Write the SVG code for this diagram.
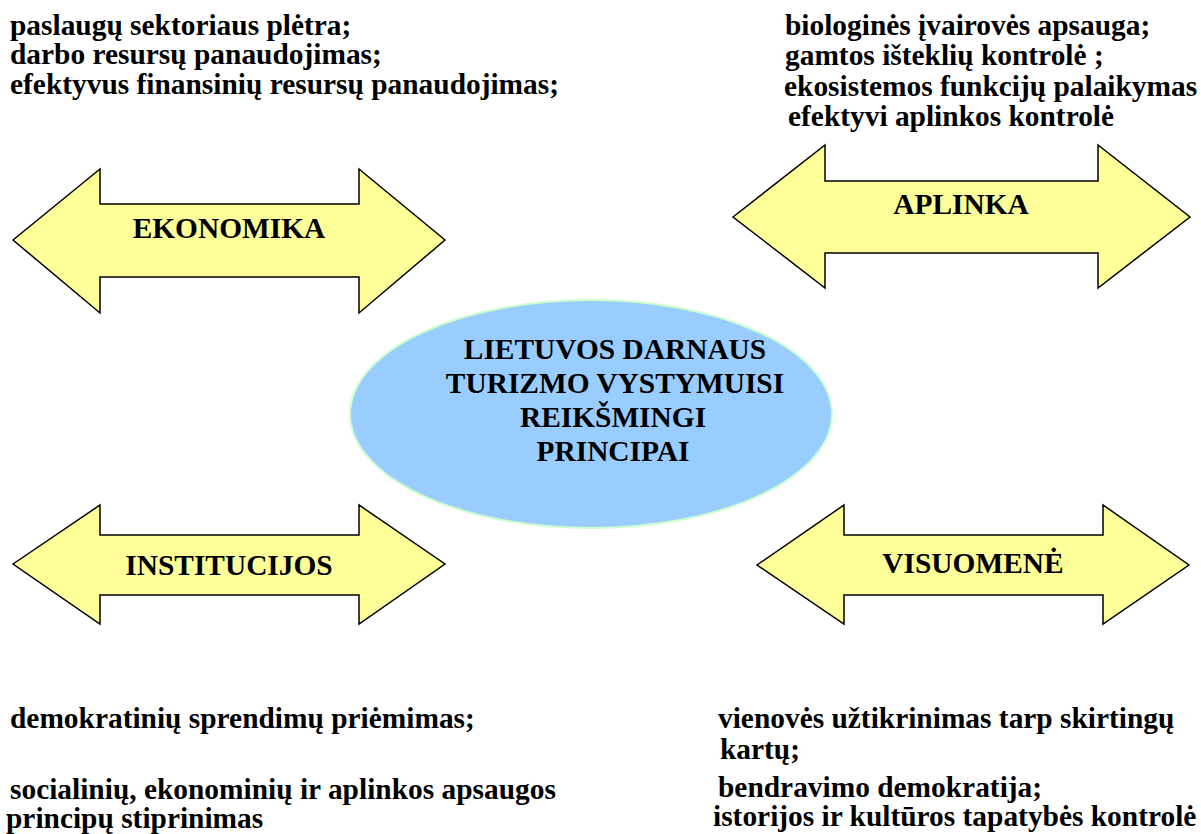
<svg xmlns="http://www.w3.org/2000/svg" width="1201" height="834" viewBox="0 0 1201 834">
<style>
text{font-family:"Liberation Serif","Times New Roman",serif;font-weight:bold;font-size:29.4px;fill:#000}
.arrow{fill:#ffff99;stroke:#000;stroke-width:1.5;stroke-linejoin:miter}
.c{text-anchor:middle}
</style>
<rect width="1201" height="834" fill="#fff"/>
<g id="center">
<ellipse cx="591" cy="414" rx="241" ry="114" fill="#99ccff" stroke="#ccffcc" stroke-width="2"/>
<text class="c" x="615" y="359">LIETUVOS DARNAUS</text>
<text class="c" x="615" y="393">TURIZMO VYSTYMUISI</text>
<text class="c" x="613" y="427">REIKŠMINGI</text>
<text class="c" x="613" y="461">PRINCIPAI</text>
</g>
<g id="ekonomika">
<path class="arrow" d="M13,240 L100,169 L100,204 L359,204 L359,169 L445,240 L359,313 L359,277 L100,277 L100,313 Z"/>
<text class="c" x="229" y="238">EKONOMIKA</text>
</g>
<g id="aplinka">
<path class="arrow" d="M733,217 L825,145 L825,181 L1098,181 L1098,145 L1190,217 L1098,288 L1098,253 L825,253 L825,288 Z"/>
<text class="c" x="961" y="214">APLINKA</text>
</g>
<g id="institucijos">
<path class="arrow" d="M13,564 L100,505 L100,535 L359,535 L359,505 L445,564 L359,624 L359,595 L100,595 L100,624 Z"/>
<text class="c" x="229" y="575">INSTITUCIJOS</text>
</g>
<g id="visuomene">
<path class="arrow" d="M757,565 L844,505 L844,535 L1103,535 L1103,505 L1189,565 L1103,624 L1103,595 L844,595 L844,624 Z"/>
<text class="c" x="973" y="573">VISUOMENĖ</text>
</g>
<g id="ekonomika-notes">
<text x="10" y="35">paslaugų sektoriaus plėtra;</text>
<text x="10" y="64">darbo resursų panaudojimas;</text>
<text x="10" y="94">efektyvus finansinių resursų panaudojimas;</text>
</g>
<g id="aplinka-notes">
<text x="785" y="35">biologinės įvairovės apsauga;</text>
<text x="785" y="65">gamtos išteklių kontrolė ;</text>
<text x="784" y="96">ekosistemos funkcijų palaikymas</text>
<text x="788" y="126">efektyvi aplinkos kontrolė</text>
</g>
<g id="institucijos-notes">
<text x="10" y="728">demokratinių sprendimų priėmimas;</text>
<text x="10" y="799">socialinių, ekonominių ir aplinkos apsaugos</text>
<text x="6" y="828">principų stiprinimas</text>
</g>
<g id="visuomene-notes">
<text x="718" y="728">vienovės užtikrinimas tarp skirtingų</text>
<text x="720" y="759">kartų;</text>
<text x="718" y="797">bendravimo demokratija;</text>
<text x="713" y="826">istorijos ir kultūros tapatybės kontrolė</text>
</g>
<g id="connectors"></g>
</svg>
